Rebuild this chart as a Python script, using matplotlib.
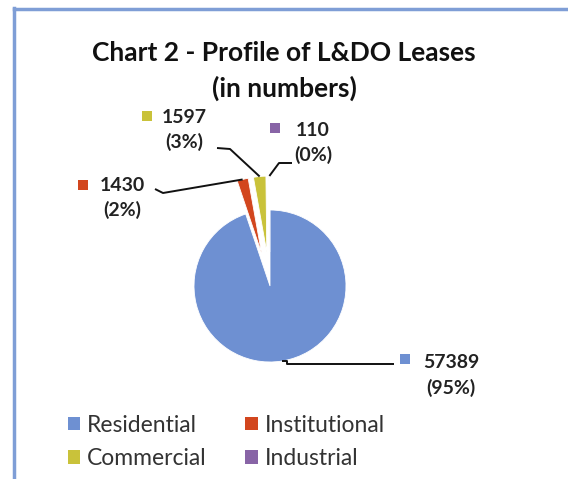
import matplotlib
matplotlib.use("Agg")
import matplotlib.pyplot as plt
from matplotlib.patches import Patch
from matplotlib.lines import Line2D
import numpy as np

categories = ["Residential", "Institutional", "Commercial", "Industrial"]
values = [57389, 1430, 1597, 110]
percents = ["95%", "2%", "3%", "0%"]
colors = ["#6E90D2", "#D2461E", "#C9C23A", "#8864A6"]

W, H = 568, 479
fig = plt.figure(figsize=(W / 100, H / 100), dpi=100)
fig.patch.set_facecolor("white")
ax = fig.add_axes([0, 0, 1, 1])

def Y(y):
    return H - y

wedges, _ = ax.pie(values, colors=colors, startangle=90, counterclock=False,
                   explode=[0.0, 34, 34, 34], radius=76, center=(270, Y(286)),
                   wedgeprops=dict(edgecolor="white", linewidth=0.6))
ax.set_xlim(0, W)
ax.set_ylim(0, H)
ax.set_aspect("auto")
ax.axis("off")

def arc_point(w):
    t = np.deg2rad((w.theta1 + w.theta2) / 2)
    return (w.center[0] + w.r * np.cos(t), w.center[1] + w.r * np.sin(t))

font = "Lato"
tc = "#222222"

layout = {
    "Residential": dict(m=(405, 359), tx=451, y1=362, y2=388,
                         path=[(394, 364), (287, 364), (287, 360)]),
    "Institutional": dict(m=(83, 185), tx=122, y1=185, y2=210,
                           path=[(155, 189), (163, 193)]),
    "Commercial": dict(m=(147, 116), tx=184, y1=117, y2=142,
                        path=[(217, 148), (230, 149)]),
    "Industrial": dict(m=(275, 128), tx=313, y1=130, y2=155,
                        path=[(292, 163), (279, 163)]),
}

for w, cat, v, p, c in zip(wedges, categories, values, percents, colors):
    L = layout[cat]
    ax.scatter([L["m"][0]], [Y(L["m"][1])], marker="s", s=45, color=c, zorder=5, linewidths=0)
    ax.text(L["tx"], Y(L["y1"]), str(v), ha="center", va="center", fontsize=14,
            fontweight="bold", family=font, color=tc)
    ax.text(L["tx"], Y(L["y2"]), f"({p})", ha="center", va="center", fontsize=14,
            fontweight="bold", family=font, color=tc)
    pts = [(x, Y(y)) for x, y in L["path"]]
    ax_pt = arc_point(w)
    if cat == "Residential":
        pts[-1] = (pts[-1][0], ax_pt[1])
    pts.append(ax_pt)
    xs, ys = zip(*pts)
    ax.plot(xs, ys, color="#111111", lw=1.4, solid_capstyle="butt", zorder=4)

# title
ax.text(284, Y(53), "Chart 2 - Profile of L&DO Leases", ha="center", va="center",
        fontsize=19, fontweight="bold", family=font, color="#111111")
ax.text(284, Y(88), "(in numbers)", ha="center", va="center",
        fontsize=19, fontweight="bold", family=font, color="#111111")

# legend (row-wise order: Residential, Institutional / Commercial, Industrial)
order = [0, 2, 1, 3]
handles = [Patch(facecolor=colors[i], edgecolor="none") for i in order]
labels = [categories[i] for i in order]
leg = fig.legend(handles, labels, ncol=2, loc="upper left",
                 bbox_to_anchor=(47 / W, 1 - 394 / H), frameon=False,
                 prop=dict(family=font, size=16.5), handlelength=0.55, handleheight=0.55,
                 handletextpad=0.3, columnspacing=1.68, labelspacing=0.56)
for t in leg.get_texts():
    t.set_color("#333333")

# frame lines
fig.add_artist(Line2D([14 / W, 14 / W], [0, 1 - 8 / H], transform=fig.transFigure,
                      color="#7F9ED6", lw=2.5))
fig.add_artist(Line2D([14 / W, 1], [1 - 9 / H, 1 - 9 / H], transform=fig.transFigure,
                      color="#7F9ED6", lw=2.5))

fig.savefig("out.png", dpi=100, facecolor="white")
